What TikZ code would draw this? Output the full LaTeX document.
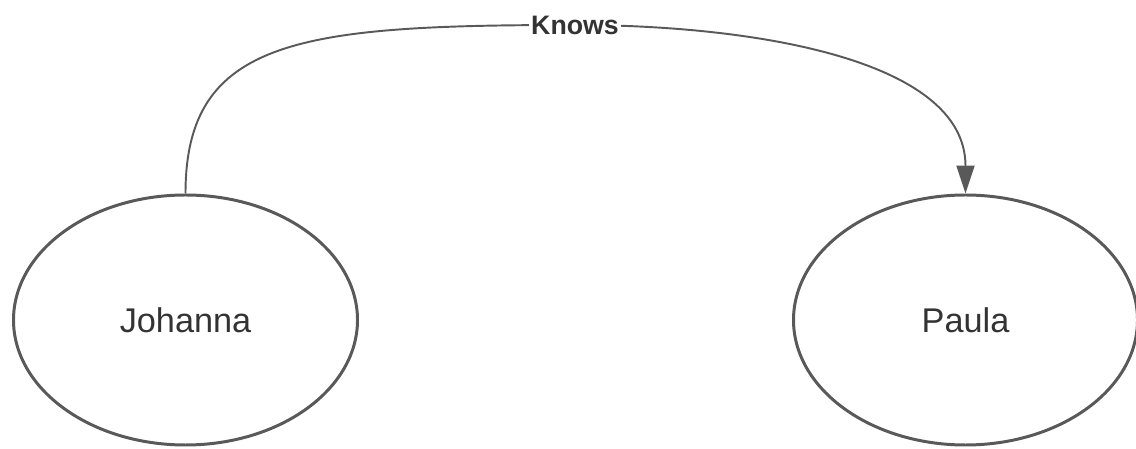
\documentclass[tikz,border=0pt]{standalone}
\usepackage{fontspec}
\setmainfont{Liberation Sans}
\usepackage{tikz}
\usetikzlibrary{shapes.geometric, arrows.meta, positioning, calc}
\definecolor{edgegray}{RGB}{89, 89, 89}
\definecolor{textgray}{RGB}{51, 51, 51}

\begin{document}
\begin{tikzpicture}[
    person/.style={ellipse, draw=edgegray, line width=1.7pt, inner sep=0pt,
        minimum width=6.88cm, minimum height=5.0cm, text=textgray,
        font=\fontsize{19.5}{23}\selectfont},
    rel/.style={draw=edgegray, line width=1.1pt, -{Triangle[length=0.56cm, width=0.36cm]}},
    rellabel/.style={fill=white, inner sep=1pt, text=textgray,
        font=\fontsize{15.2}{18}\selectfont\bfseries}
]
    % Fix the page to the reference size
    \useasboundingbox (0,0) rectangle (22.72,8.98);

    % Draw the two people
    \node[person] (johanna) at (3.71,2.58) {Johanna};
    \node[person] (paula) at (19.31,2.58) {Paula};

    % Relation arc with its label on top
    \coordinate (knowstop) at (11.5,8.48);
    \draw[rel] (johanna.north) .. controls +(0,3.1) and +(-5.5,0) .. (knowstop)
        .. controls +(3.5,0) and +(0,2.7) .. (paula.north);
    \node[rellabel] (knows) at (knowstop) {Knows};

\end{tikzpicture}
\end{document}
